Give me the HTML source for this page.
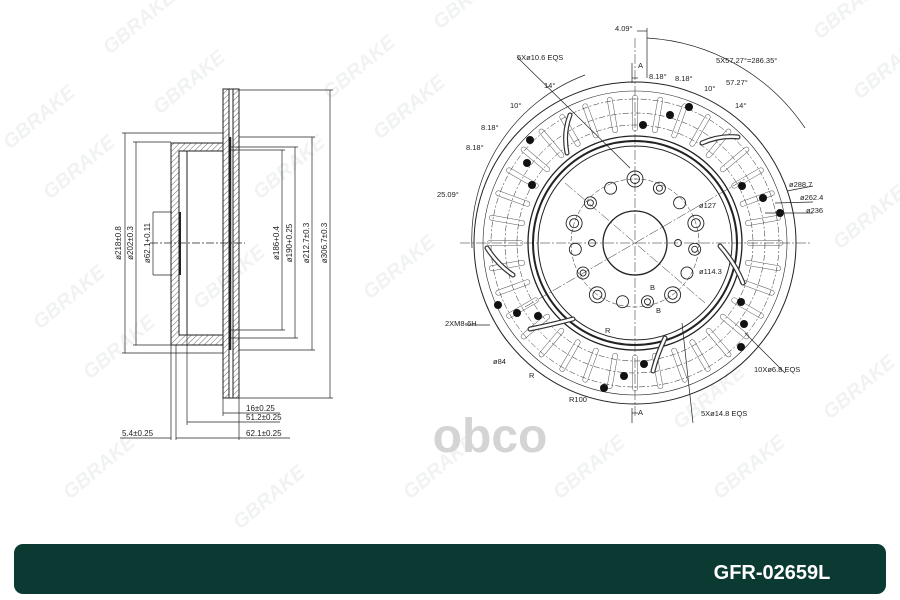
<!DOCTYPE html>
<html><head><meta charset="utf-8"><style>
body{margin:0;width:900px;height:600px;background:#fff;overflow:hidden;font-family:"Liberation Sans",sans-serif}
svg{position:absolute;left:0;top:0}
</style></head><body>
<svg width="900" height="600" viewBox="0 0 900 600" xmlns="http://www.w3.org/2000/svg">
<defs>
<pattern id="h" width="4" height="4" patternUnits="userSpaceOnUse" patternTransform="rotate(45)"><line x1="0" y1="0" x2="0" y2="4" stroke="#222" stroke-width="0.7"/></pattern>
</defs>
<!-- watermarks -->
<g fill="#f1f3f3" font-size="20" font-weight="bold" font-style="italic">
<text x="110" y="55" transform="rotate(-40 110 55)">GBRAKE</text>
<text x="160" y="115" transform="rotate(-40 160 115)">GBRAKE</text>
<text x="10" y="150" transform="rotate(-40 10 150)">GBRAKE</text>
<text x="50" y="200" transform="rotate(-40 50 200)">GBRAKE</text>
<text x="40" y="330" transform="rotate(-40 40 330)">GBRAKE</text>
<text x="90" y="380" transform="rotate(-40 90 380)">GBRAKE</text>
<text x="260" y="200" transform="rotate(-40 260 200)">GBRAKE</text>
<text x="330" y="100" transform="rotate(-40 330 100)">GBRAKE</text>
<text x="380" y="140" transform="rotate(-40 380 140)">GBRAKE</text>
<text x="440" y="30" transform="rotate(-40 440 30)">GBRAKE</text>
<text x="370" y="300" transform="rotate(-40 370 300)">GBRAKE</text>
<text x="200" y="310" transform="rotate(-40 200 310)">GBRAKE</text>
<text x="70" y="500" transform="rotate(-40 70 500)">GBRAKE</text>
<text x="240" y="530" transform="rotate(-40 240 530)">GBRAKE</text>
<text x="410" y="500" transform="rotate(-40 410 500)">GBRAKE</text>
<text x="560" y="500" transform="rotate(-40 560 500)">GBRAKE</text>
<text x="720" y="500" transform="rotate(-40 720 500)">GBRAKE</text>
<text x="830" y="420" transform="rotate(-40 830 420)">GBRAKE</text>
<text x="820" y="40" transform="rotate(-40 820 40)">GBRAKE</text>
<text x="860" y="100" transform="rotate(-40 860 100)">GBRAKE</text>
<text x="840" y="250" transform="rotate(-40 840 250)">GBRAKE</text>
<text x="680" y="430" transform="rotate(-40 680 430)">GBRAKE</text>
</g>
<text x="490" y="452" fill="#d4d4d4" font-size="48" font-weight="bold" text-anchor="middle">obco</text>

<!-- SIDE VIEW -->
<g stroke="#222" stroke-width="1" fill="none">
<rect x="223" y="89" width="6" height="309" fill="url(#h)"/>
<rect x="233" y="89" width="6" height="309" fill="url(#h)"/>
<line x1="229" y1="89" x2="233" y2="89"/><line x1="229" y1="398" x2="233" y2="398"/>
<path d="M171 143 H223 V151 H179 V335 H223 V345 H171 Z" fill="url(#h)"/>
<line x1="187" y1="151" x2="187" y2="335"/>
<line x1="230" y1="137" x2="230" y2="350" stroke-width="2.5"/>
<line x1="180" y1="212" x2="180" y2="275" stroke-width="2"/>
<line x1="150" y1="243" x2="245" y2="243" stroke-dasharray="8 2 2 2" stroke-width="0.7"/>
<g stroke-width="0.7">
<line x1="125" y1="133" x2="125" y2="353"/><line x1="122" y1="133" x2="223" y2="133"/><line x1="122" y1="353" x2="223" y2="353"/>
<line x1="136" y1="142" x2="136" y2="345"/><line x1="133" y1="142" x2="171" y2="142"/><line x1="133" y1="345" x2="171" y2="345"/>
<line x1="153" y1="212" x2="153" y2="275"/><line x1="153" y1="212" x2="172" y2="212"/><line x1="153" y1="275" x2="172" y2="275"/>
<line x1="282" y1="150" x2="282" y2="330"/><line x1="230" y1="150" x2="285" y2="150"/><line x1="230" y1="330" x2="285" y2="330"/>
<line x1="295" y1="147" x2="295" y2="338"/><line x1="230" y1="147" x2="298" y2="147"/><line x1="230" y1="338" x2="298" y2="338"/>
<line x1="312" y1="137" x2="312" y2="350"/><line x1="239" y1="137" x2="315" y2="137"/><line x1="239" y1="350" x2="315" y2="350"/>
<line x1="330" y1="90" x2="330" y2="398"/><line x1="239" y1="90" x2="333" y2="90"/><line x1="239" y1="398" x2="333" y2="398"/>
<line x1="171" y1="345" x2="171" y2="440"/><line x1="176" y1="345" x2="176" y2="440"/><line x1="187" y1="335" x2="187" y2="425"/>
<line x1="223" y1="398" x2="223" y2="416"/><line x1="239" y1="398" x2="239" y2="440"/>
<line x1="223" y1="413" x2="280" y2="413"/><line x1="187" y1="422" x2="280" y2="422"/><line x1="176" y1="438" x2="290" y2="438"/>
<line x1="120" y1="438" x2="171" y2="438"/>
</g>
</g>
<g font-size="8" fill="#222">
<text x="121" y="243" transform="rotate(-90 121 243)" text-anchor="middle">ø218±0.8</text>
<text x="133" y="243" transform="rotate(-90 133 243)" text-anchor="middle">ø202±0.3</text>
<text x="150" y="243" transform="rotate(-90 150 243)" text-anchor="middle">ø62.1+0.11</text>
<text x="279" y="243" transform="rotate(-90 279 243)" text-anchor="middle">ø186+0.4</text>
<text x="292" y="243" transform="rotate(-90 292 243)" text-anchor="middle">ø190+0.25</text>
<text x="309" y="243" transform="rotate(-90 309 243)" text-anchor="middle">ø212.7±0.3</text>
<text x="327" y="243" transform="rotate(-90 327 243)" text-anchor="middle">ø306.7±0.3</text>
<text x="246" y="411">16±0.25</text>
<text x="246" y="420">51.2±0.25</text>
<text x="246" y="436">62.1±0.25</text>
<text x="122" y="436">5.4±0.25</text>
</g>

<!-- FRONT VIEW -->
<g transform="translate(635 243)" stroke="#222" fill="none" stroke-width="1">
<circle r="161"/><circle r="152" stroke-width="0.6"/>
<circle r="144" stroke-dasharray="6 2 2 2" stroke-width="0.5"/>
<circle r="130" stroke-dasharray="6 2 2 2" stroke-width="0.5"/>
<circle r="118" stroke-dasharray="6 2 2 2" stroke-width="0.5"/>
<circle r="107" stroke-width="1.3"/><circle r="102" stroke-width="2"/><circle r="97"/>
<circle r="32" stroke-width="1.3"/>
<circle r="64" stroke-dasharray="5 2" stroke-width="0.5"/>
<g stroke-width="0.5" stroke="#555">
<g id="sl"><rect x="-2.5" y="-148" width="5" height="36" rx="2.5"/></g>
<use href="#sl" transform="rotate(10)"/><use href="#sl" transform="rotate(20)"/><use href="#sl" transform="rotate(30)"/><use href="#sl" transform="rotate(40)"/><use href="#sl" transform="rotate(50)"/><use href="#sl" transform="rotate(60)"/><use href="#sl" transform="rotate(70)"/><use href="#sl" transform="rotate(80)"/><use href="#sl" transform="rotate(90)"/><use href="#sl" transform="rotate(100)"/><use href="#sl" transform="rotate(110)"/><use href="#sl" transform="rotate(120)"/><use href="#sl" transform="rotate(130)"/><use href="#sl" transform="rotate(140)"/><use href="#sl" transform="rotate(150)"/><use href="#sl" transform="rotate(160)"/><use href="#sl" transform="rotate(170)"/><use href="#sl" transform="rotate(180)"/><use href="#sl" transform="rotate(190)"/><use href="#sl" transform="rotate(200)"/><use href="#sl" transform="rotate(210)"/><use href="#sl" transform="rotate(220)"/><use href="#sl" transform="rotate(230)"/><use href="#sl" transform="rotate(240)"/><use href="#sl" transform="rotate(250)"/><use href="#sl" transform="rotate(260)"/><use href="#sl" transform="rotate(270)"/><use href="#sl" transform="rotate(280)"/><use href="#sl" transform="rotate(290)"/><use href="#sl" transform="rotate(300)"/><use href="#sl" transform="rotate(310)"/><use href="#sl" transform="rotate(320)"/><use href="#sl" transform="rotate(330)"/><use href="#sl" transform="rotate(340)"/><use href="#sl" transform="rotate(350)"/>
</g>
<!-- curved grooves (outlined) -->
<g id="gr" stroke-linecap="round"><path d="M-65 -128 Q-72 -110 -68 -90" /><path d="M67 -100 Q85 -108 103 -106"/><path d="M85 3 Q100 20 108 40"/><path d="M30 95 Q22 112 18 128"/><path d="M-105 86 Q-85 82 -62 76"/><path d="M-148 5 Q-137 22 -122 32"/></g>
<use href="#gr" stroke-width="5" stroke="#333"/>
<use href="#gr" stroke-width="2.6" stroke="#fff"/>
<!-- drill holes -->
<g fill="#111" stroke="none">
<circle cx="8" cy="-118" r="4"/><circle cx="35" cy="-128" r="4"/><circle cx="54" cy="-136" r="4"/>
<circle cx="-105" cy="-103" r="4"/><circle cx="-108" cy="-80" r="4"/><circle cx="-103" cy="-58" r="4"/>
<circle cx="107" cy="-57" r="4"/><circle cx="128" cy="-45" r="4"/><circle cx="145" cy="-30" r="4"/>
<circle cx="-137" cy="62" r="4"/><circle cx="-118" cy="70" r="4"/><circle cx="-97" cy="73" r="4"/>
<circle cx="106" cy="59" r="4"/><circle cx="109" cy="81" r="4"/><circle cx="106" cy="104" r="4"/>
<circle cx="9" cy="121" r="4"/><circle cx="-11" cy="133" r="4"/><circle cx="-31" cy="145" r="4"/>
</g>
<g stroke-width="0.9">
<g><circle cx="0" cy="-64" r="8"/><circle cx="0" cy="-64" r="4.5"/></g>
<g transform="rotate(72)"><circle cx="0" cy="-64" r="8"/><circle cx="0" cy="-64" r="4.5"/></g>
<g transform="rotate(144)"><circle cx="0" cy="-64" r="8"/><circle cx="0" cy="-64" r="4.5"/></g>
<g transform="rotate(216)"><circle cx="0" cy="-64" r="8"/><circle cx="0" cy="-64" r="4.5"/></g>
<g transform="rotate(288)"><circle cx="0" cy="-64" r="8"/><circle cx="0" cy="-64" r="4.5"/></g>
<g transform="rotate(24)"><circle cx="0" cy="-60" r="6"/><circle cx="0" cy="-60" r="3"/></g>
<g transform="rotate(96)"><circle cx="0" cy="-60" r="6"/><circle cx="0" cy="-60" r="3"/></g>
<g transform="rotate(168)"><circle cx="0" cy="-60" r="6"/><circle cx="0" cy="-60" r="3"/></g>
<g transform="rotate(240)"><circle cx="0" cy="-60" r="6"/><circle cx="0" cy="-60" r="3"/></g>
<g transform="rotate(312)"><circle cx="0" cy="-60" r="6"/><circle cx="0" cy="-60" r="3"/></g>
<g transform="rotate(48)"><circle cx="0" cy="-60" r="6"/></g>
<g transform="rotate(120)"><circle cx="0" cy="-60" r="6"/></g>
<g transform="rotate(192)"><circle cx="0" cy="-60" r="6"/></g>
<g transform="rotate(264)"><circle cx="0" cy="-60" r="6"/></g>
<g transform="rotate(336)"><circle cx="0" cy="-60" r="6"/></g>
<circle cx="-43" cy="0" r="3.5"/><circle cx="43" cy="0" r="3.5"/>
</g>
<g stroke-width="0.5" stroke-dasharray="10 2 2 2">
<line x1="-175" y1="0" x2="175" y2="0"/><line x1="0" y1="-205" x2="0" y2="175"/>
<line x1="-110" y1="64" x2="110" y2="-64"/><line x1="-70" y1="-60" x2="70" y2="60"/>
</g>
<g stroke-width="0.7">
<path d="M12 -205 A205 205 0 0 1 170 -115"/>
<path d="M-163 5 A175 175 0 0 1 -50 -168"/>
<line x1="12" y1="-215" x2="12" y2="-165"/><line x1="2" y1="-212" x2="12" y2="-212"/>
<line x1="-3" y1="-160" x2="-3" y2="-180"/><line x1="-3" y1="-165" x2="3" y2="-165"/>
<line x1="-3" y1="165" x2="-3" y2="180"/><line x1="-3" y1="170" x2="3" y2="170"/>
<line x1="-118" y1="-186" x2="-5" y2="-75"/>
<line x1="47" y1="80" x2="58" y2="180"/>
<line x1="110" y1="90" x2="150" y2="130"/>
<line x1="152" y1="-52" x2="178" y2="-57"/><line x1="140" y1="-40" x2="178" y2="-41"/><line x1="130" y1="-30" x2="178" y2="-30"/>
<line x1="-145" y1="82" x2="-170" y2="82"/>
</g>
</g>
<g font-size="7.5" fill="#222">
<text x="615" y="31">4.09°</text>
<text x="517" y="60">5Xø10.6 EQS</text>
<text x="716" y="63">5X57.27°=286.35°</text>
<text x="638" y="68">A</text>
<text x="649" y="79">8.18°</text><text x="675" y="81">8.18°</text>
<text x="726" y="85">57.27°</text><text x="704" y="91">10°</text><text x="735" y="108">14°</text>
<text x="544" y="88">14°</text><text x="510" y="108">10°</text>
<text x="481" y="130">8.18°</text><text x="466" y="150">8.18°</text>
<text x="437" y="197">25.09°</text>
<text x="789" y="187">ø288.7</text><text x="800" y="200">ø262.4</text><text x="806" y="213">ø236</text>
<text x="699" y="208">ø127</text><text x="699" y="274">ø114.3</text>
<text x="445" y="326">2XM8-6H</text>
<text x="493" y="364">ø84</text><text x="605" y="333">R</text><text x="529" y="378">R</text>
<text x="569" y="402">R100</text>
<text x="754" y="372">10Xø6.8 EQS</text>
<text x="701" y="416">5Xø14.8 EQS</text>
<text x="638" y="415">A</text>
<text x="650" y="290">B</text><text x="656" y="313">B</text>
</g>

<rect x="14" y="544" width="872" height="50" rx="9" fill="#0b3a33"/>
<text x="772" y="579" fill="#fff" font-size="20" font-weight="bold" text-anchor="middle">GFR-02659L</text>
</svg>
</body></html>
